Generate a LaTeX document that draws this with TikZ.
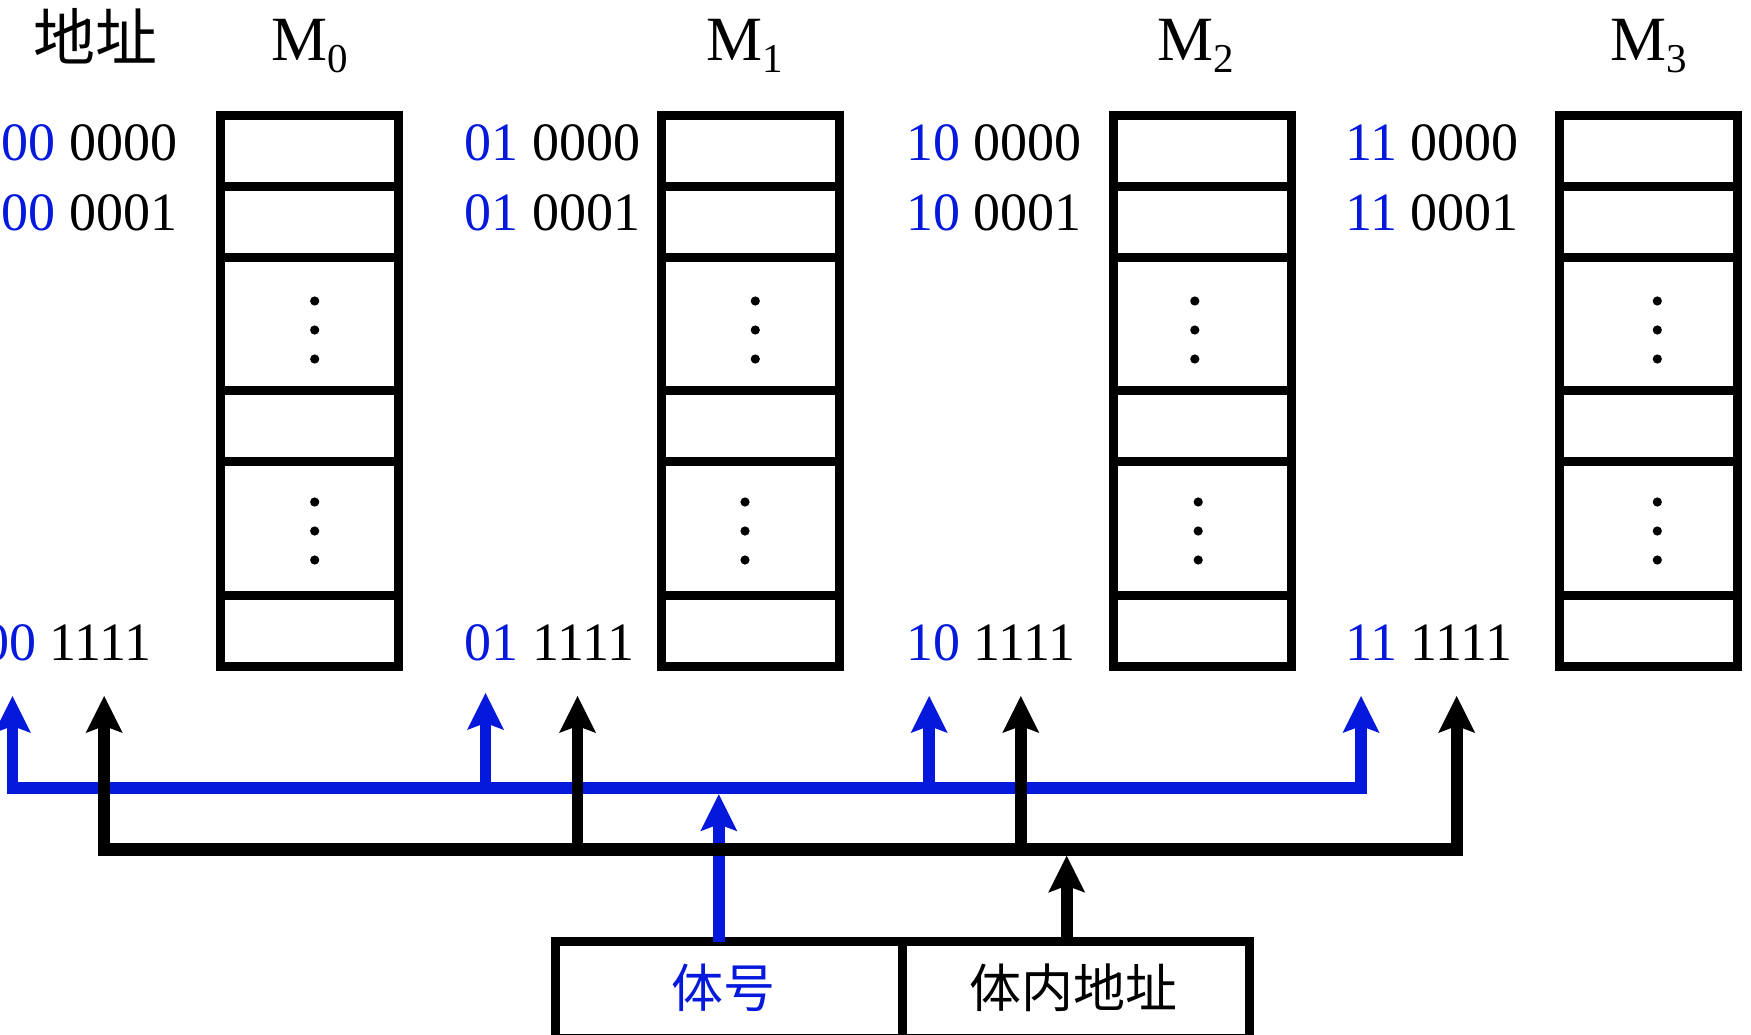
\documentclass[tikz,border=0pt]{standalone}
\usepackage{fontspec}
\setmainfont{Liberation Serif}
\newfontfamily\cjkfont{Noto Sans CJK SC}
\usetikzlibrary{arrows.meta}
\definecolor{busblue}{RGB}{5,25,220}
\begin{document}
\begin{tikzpicture}[x=1pt,y=-1pt,
  membox/.style={draw=black,line width=9pt,minimum width=177.7pt,minimum height=550.7pt,inner sep=0pt,outer sep=0pt},
  divline/.style={draw=black,line width=9pt},
  addr/.style={anchor=base west,inner sep=0pt,font=\fontsize{54pt}{60pt}\selectfont},
  mlab/.style={anchor=base west,inner sep=0pt,font=\fontsize{63pt}{70pt}\selectfont},
  cjklab/.style={inner sep=0pt,font=\cjkfont\fontsize{#1}{#1}\selectfont},
  fieldbox/.style={draw=black,line width=9pt,minimum height=96.5pt,inner sep=0pt,outer sep=0pt},
  arrowtip/.style={-{Stealth[length=37pt,width=37pt,inset=7pt,line width=0pt]}},
  bluebus/.style={draw=busblue,line width=12.7pt},
  blackbus/.style={draw=black,line width=13pt},
  bluetap/.style={draw=busblue,fill=busblue,line width=11.7pt,arrowtip},
  blacktap/.style={draw=black,fill=black,line width=11.7pt,arrowtip}
]
\useasboundingbox (0,0) rectangle (1751,1034);

% header
\node[cjklab=62pt] (hdr) at (95.5,36.5) {地址};
\node[mlab] (t0) at (271.5,60.5) {M\raisebox{-12pt}{\fontsize{41pt}{41pt}\selectfont 0}};
\node[mlab] (t1) at (706.3,60.5) {M\raisebox{-12pt}{\fontsize{41pt}{41pt}\selectfont 1}};
\node[mlab] (t2) at (1157.3,60.5) {M\raisebox{-12pt}{\fontsize{41pt}{41pt}\selectfont 2}};
\node[mlab] (t3) at (1610.7,60.5) {M\raisebox{-12pt}{\fontsize{41pt}{41pt}\selectfont 3}};

% memory banks
\foreach \n/\cx/\da/\db in {0/309.35/314.7/314.7, 1/750.65/755.3/745, 2/1202.35/1194.8/1198.2, 3/1648.35/1657.3/1657.3} {
  \node[membox] (m\n) at (\cx,390.85) {};
  \foreach \yy in {186.3,257.7,390.5,461.5,595.5}
    \draw[divline] (\cx-88.85,\yy) -- (\cx+88.85,\yy);
  \foreach \yy in {301,330,359}
    \fill (\da,\yy) circle[radius=4.6pt];
  \foreach \yy in {502,531,560}
    \fill (\db,\yy) circle[radius=4.6pt];
}

% address labels
\node[addr] (a0a) at (1.4,160.7) {\textcolor{busblue}{00} 0000};
\node[addr] (a0b) at (1.4,230.7) {\textcolor{busblue}{00} 0001};
\node[addr] (a0c) at (-18,660) {\textcolor{busblue}{00} 1111};
\node[addr] (a1a) at (464.4,160.7) {\textcolor{busblue}{01} 0000};
\node[addr] (a1b) at (464.4,230.7) {\textcolor{busblue}{01} 0001};
\node[addr] (a1c) at (464.4,660) {\textcolor{busblue}{01} 1111};
\node[addr] (a2a) at (906,160.7) {\textcolor{busblue}{10} 0000};
\node[addr] (a2b) at (906,230.7) {\textcolor{busblue}{10} 0001};
\node[addr] (a2c) at (906,660) {\textcolor{busblue}{10} 1111};
\node[addr] (a3a) at (1345,160.7) {\textcolor{busblue}{11} 0000};
\node[addr] (a3b) at (1345,230.7) {\textcolor{busblue}{11} 0001};
\node[addr] (a3c) at (1345,660) {\textcolor{busblue}{11} 1111};

% address register
\node[fieldbox,minimum width=347.2pt] (bank) at (729.1,989.75) {};
\node[fieldbox,minimum width=346.8pt] (offs) at (1076.1,989.75) {};
\node[cjklab=52pt,text=busblue] (tbank) at (723.5,988) {体号};
\node[cjklab=52pt] (toffs) at (1073.6,988) {体内地址};

% blue bus (bank number)
\coordinate (bl) at (6.7,788);
\coordinate (br) at (1366.7,788);
\draw[bluebus] (bl) -- (br);
\foreach \i/\x/\t in {0/12.5/696,1/485.5/693,2/929.2/696,3/1361/696} {
  \coordinate (bb\i) at (\x,794);
  \coordinate (bt\i) at (\x,\t);
  \draw[bluetap] (bb\i) -- (bt\i);
}
\coordinate (bankout) at (718.8,941.5);
\coordinate (bankin) at (718.8,794.3);
\draw[bluetap] (bankout) -- (bankin);

% black bus (in-bank address)
\coordinate (kl) at (98.3,849.2);
\coordinate (kr) at (1462.7,849.2);
\draw[blackbus] (kl) -- (kr);
\foreach \i/\x in {0/104.2,1/577.5,2/1020.8,3/1456.7} {
  \coordinate (kb\i) at (\x,855.7);
  \coordinate (kt\i) at (\x,696);
  \draw[blacktap] (kb\i) -- (kt\i);
}
\coordinate (offsout) at (1066.7,941.5);
\coordinate (offsin) at (1066.7,855.7);
\draw[blacktap] (offsout) -- (offsin);
\end{tikzpicture}
\end{document}
